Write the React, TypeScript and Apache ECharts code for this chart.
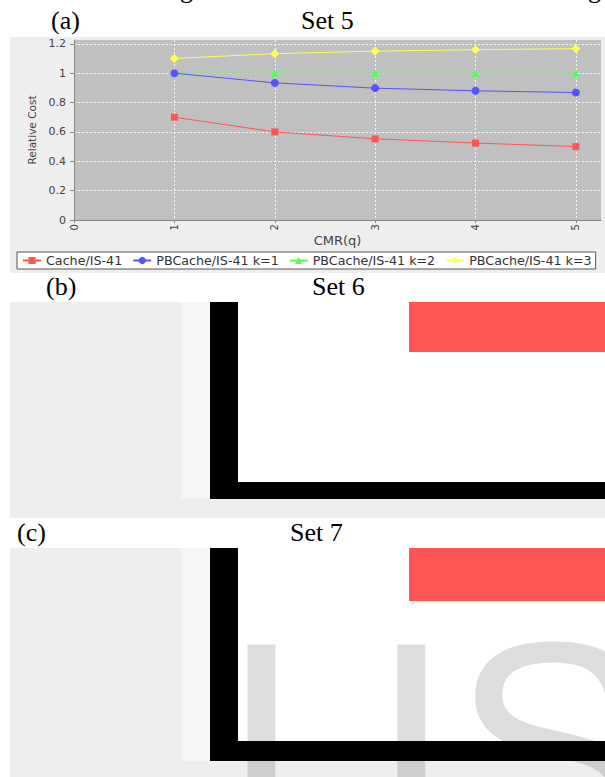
import React, { useEffect, useRef } from "react";
import * as echarts from "echarts";

const cmrValues = [1, 2, 3, 4, 5];
const cacheIS41 = [0.7, 0.6, 0.553, 0.524, 0.5];
const pbCacheK1 = [1.0, 0.934, 0.898, 0.88, 0.868];
const pbCacheK2 = [1.0, 1.0, 1.0, 1.0, 1.0];
const pbCacheK3 = [1.1, 1.133, 1.15, 1.16, 1.167];
const seriesNames = ["Cache/IS-41", "PBCache/IS-41 k=1", "PBCache/IS-41 k=2", "PBCache/IS-41 k=3"];
const seriesColors = ["#ff5555", "#5555ff", "#55ff55", "#ffff55"];
const seriesSymbols = ["rect", "circle", "triangle", "diamond"];
const seriesSizes = [7, 8, 8, 9];
const panelLabels = ["(a)", "(b)", "(c)"];
const panelTitles = ["Set 5", "Set 6", "Set 7"];
const xAxisTitle = "CMR(q)";
const yAxisTitle = "Relative Cost";
const watermarkLetters = ["I", "I", "S"];

const SERIF = '"Liberation Serif", "Times New Roman", serif';
const SANS = '"DejaVu Sans", sans-serif';

export default function App() {
  const ref = useRef<HTMLDivElement>(null);
  useEffect(() => {
    document.body.style.margin = "0";
    const chart = echarts.init(ref.current!, null, { renderer: "svg" });
    const allValues = [cacheIS41, pbCacheK1, pbCacheK2, pbCacheK3];

    const serifText = (text: string, x: number, ym: number) => ({
      type: "text",
      z: 50,
      style: { text, x, y: ym, font: `26px ${SERIF}`, fill: "#000", align: "left", verticalAlign: "middle" },
    });
    const rect = (x: number, y: number, w: number, h: number, fill: string, z = 10) => ({
      type: "rect",
      z,
      shape: { x, y, width: w, height: h },
      style: { fill },
    });

    const graphics: any[] = [
      rect(10, 37, 595, 236, "#eeeeee", -100),
      serifText("g", 180, -10.3),
      serifText("g", 588, -10.3),
      serifText(panelLabels[0], 51, 20.7),
      serifText(panelTitles[0], 301, 20.7),
      serifText(panelLabels[1], 46, 286.2),
      serifText(panelTitles[1], 312, 286.2),
      serifText(panelLabels[2], 17, 532.2),
      serifText(panelTitles[2], 290, 532.2),
      rect(10, 302, 595, 216, "#eeeeee"),
      rect(181, 302, 29, 197, "#f5f5f5"),
      rect(238, 302, 367, 180, "#ffffff"),
      rect(210, 302, 28, 197, "#000000"),
      rect(210, 482, 395, 17, "#000000"),
      rect(409, 302, 196, 50, "#ff5555"),
      rect(10, 548, 595, 229, "#eeeeee"),
      rect(181, 548, 29, 213, "#f5f5f5"),
      rect(238, 548, 367, 193, "#ffffff"),
      rect(210, 548, 28, 213, "#000000"),
      rect(210, 741, 395, 20, "#000000"),
      rect(409, 548, 196, 53, "#ff5555"),
    ];
    const wmX = [220, 370, 452];
    watermarkLetters.forEach((l, i) => {
      graphics.push({
        type: "text",
        z: 60,
        style: {
          text: l,
          x: wmX[i],
          y: 746,
          font: `298px "Liberation Sans", Arial, sans-serif`,
          fill: "rgba(0,0,0,0.135)",
          align: "left",
          verticalAlign: "middle",
        },
      });
    });

    const option: any = {
      animation: false,
      backgroundColor: "#ffffff",
      textStyle: { fontFamily: SANS },
      grid: {
        left: 74,
        right: 4,
        top: 40,
        bottom: 557,
        show: true,
        backgroundColor: "#c0c0c0",
        borderWidth: 0,
        containLabel: false,
      },
      legend: {
        data: seriesNames,
        left: 17,
        top: 252,
        orient: "horizontal",
        itemWidth: 18,
        itemHeight: 9,
        itemGap: 10,
        padding: [2, 4, 2, 5],
        backgroundColor: "#ffffff",
        borderColor: "#555555",
        borderWidth: 1,
        borderRadius: 0,
        textStyle: { fontSize: 12.7, fontFamily: SANS, color: "#333" },
      },
      xAxis: {
        type: "value",
        min: 0,
        max: 5.25,
        interval: 1,
        name: xAxisTitle,
        nameLocation: "middle",
        nameGap: 11,
        nameTextStyle: { fontSize: 13, fontFamily: SANS, color: "#444" },
        axisLine: { show: true, onZero: false, lineStyle: { color: "#888", width: 1 } },
        axisTick: { show: true, length: 3, lineStyle: { color: "#888" } },
        axisLabel: {
          rotate: 90,
          fontSize: 10,
          color: "#444",
          margin: 4,
          showMaxLabel: false,
          fontFamily: SANS,
        },
        splitLine: {
          show: true,
          showMinLine: false,
          showMaxLine: false,
          lineStyle: { color: "rgba(255,255,255,0.85)", type: [2, 2], width: 1 },
        },
      },
      yAxis: {
        type: "value",
        min: 0,
        max: 1.226,
        interval: 0.2,
        name: yAxisTitle,
        nameLocation: "middle",
        nameGap: 34,
        nameRotate: 90,
        nameTextStyle: { fontSize: 10.5, fontFamily: SANS, color: "#444" },
        axisLine: { show: true, lineStyle: { color: "#888", width: 1 } },
        axisTick: { show: true, length: 4, lineStyle: { color: "#888" } },
        axisLabel: {
          fontSize: 11,
          color: "#444",
          margin: 8,
          showMaxLabel: false,
          fontFamily: SANS,
        },
        splitLine: {
          show: true,
          showMinLine: false,
          showMaxLine: false,
          lineStyle: { color: "rgba(255,255,255,0.85)", type: [2, 2], width: 1 },
        },
      },
      series: seriesNames.map((name, i) => ({
        name,
        type: "line",
        z: 10 - i,
        data: cmrValues.map((x, j) => [x, allValues[i][j]]),
        symbol: seriesSymbols[i],
        symbolSize: seriesSizes[i],
        showAllSymbol: true,
        lineStyle: { width: 1, color: seriesColors[i] },
        itemStyle: { color: seriesColors[i] },
        emphasis: { disabled: true },
      })),
      graphic: { elements: graphics },
    };
    chart.setOption(option);
    return () => chart.dispose();
  }, []);
  return <div ref={ref} style={{ width: 605, height: 777 }} />;
}
